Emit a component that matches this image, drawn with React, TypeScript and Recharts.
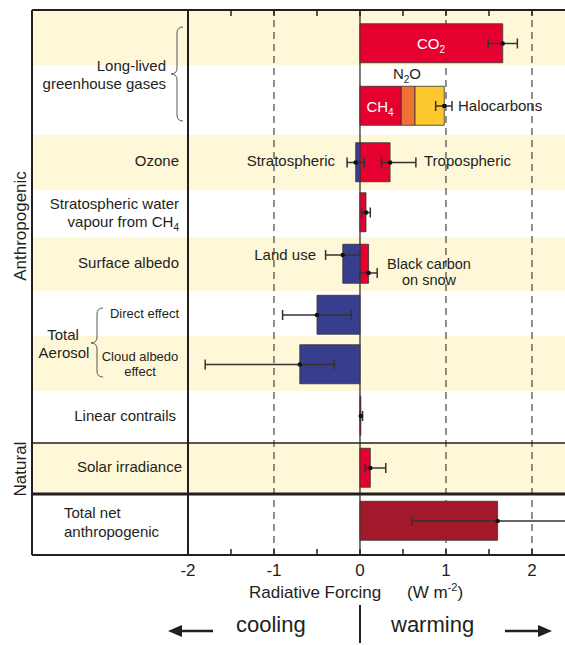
import React from "react"
import { Bar, ComposedChart, ErrorBar, ReferenceArea, ReferenceLine, Scatter, XAxis, YAxis } from "recharts"

// rows, top to bottom
const rowNames = [
  "CO2",
  "CH4 / N2O / Halocarbons",
  "Ozone",
  "Stratospheric water vapour from CH4",
  "Surface albedo",
  "Direct effect",
  "Cloud albedo effect",
  "Linear contrails",
  "Solar irradiance",
  "Total net anthropogenic",
]

// best estimates (W m-2)
const warmForcing = [1.66, 0.48, 0.35, 0.07, 0.1, 0, 0, 0.01, 0.12, 0]
const n2oForcing = [0, 0.16, 0, 0, 0, 0, 0, 0, 0, 0]
const halocarbonForcing = [0, 0.34, 0, 0, 0, 0, 0, 0, 0, 0]
const coolForcing = [0, 0, -0.05, 0, -0.2, -0.5, -0.7, 0, 0, 0]
const totalNetForcing = [0, 0, 0, 0, 0, 0, 0, 0, 0, 1.6]

// uncertainty ranges
const errorRow = [0, 1, 2, 2, 3, 4, 4, 5, 6, 7, 8, 9]
const errorBest = [1.66, 0.98, -0.05, 0.35, 0.07, -0.2, 0.1, -0.5, -0.7, 0.01, 0.12, 1.6]
const errorLow = [1.49, 0.88, -0.15, 0.25, 0.02, -0.4, 0.0, -0.9, -1.8, 0.003, 0.06, 0.6]
const errorHigh = [1.83, 1.07, 0.05, 0.65, 0.12, 0.0, 0.2, -0.1, -0.3, 0.03, 0.3, 2.4]

const xTicks = [-2, -1.5, -1, -0.5, 0, 0.5, 1, 1.5, 2]
const dashedAt = [-1, 1, 2]

// layout
const W = 565
const H = 645
const FRAME_LEFT = 32
const PLOT_LEFT = 188
const PLOT_TOP = 10
const PLOT_BOTTOM = 555
const PLOT_H = PLOT_BOTTOM - PLOT_TOP
const X_MIN = -2
const X_MAX = 2.384
const TICK_LEN = 6
const rowHeights = [55, 70, 55, 47, 54, 45, 55, 52, 50, 62]
const barShift = [6, 6, 0, -1, 0, 1.5, 1, -1, 0, -3]
const errorShift = [0, 0, 0, 0, 0, -9, 9, 0, 0, 0, 0, 0]

const RED = "#e60030"
const ORANGE = "#ee7236"
const YELLOW = "#fcc82d"
const BLUE = "#383d8e"
const DARK_RED = "#a2192c"
const BAND = "#fef7d8"
const INK = "#231f20"
const FONT = "'Liberation Sans', Arial, Helvetica, sans-serif"

const rowTops: number[] = []
rowHeights.reduce((acc, h) => {
  rowTops.push(acc)
  return acc + h
}, 0)
const rowPos = rowTops.map((t, i) => t + rowHeights[i] / 2 + barShift[i])

const data = rowNames.map((name, i) => {
  const w = warmForcing[i]
  const n = n2oForcing[i]
  const h = halocarbonForcing[i]
  return {
    name,
    pos: rowPos[i],
    warm: [0, w],
    n2o: [w, w + n],
    halo: [w + n, w + n + h],
    cool: [coolForcing[i], 0],
    total: [0, totalNetForcing[i]],
  }
})

const errorData = errorRow.map((r, i) => ({
  pos: rowPos[r] + errorShift[i],
  best: errorBest[i],
  err: [errorBest[i] - errorLow[i], errorHigh[i] - errorBest[i]],
}))

// same linear mapping as the x axis, used only for the minor tick marks on the frame
const tickPx = (v: number) => PLOT_LEFT + ((v - X_MIN) / (X_MAX - X_MIN)) * (W - PLOT_LEFT)

const BottomTick = (props: any) => {
  const { x, y, payload } = props
  const v = payload.value
  if (!Number.isInteger(v)) return <g />
  return (
    <text x={x} y={y + 21} textAnchor="middle" fontSize={17} fill={INK} fontFamily={FONT}>
      {String(v)}
    </text>
  )
}

const ErrDot = (props: any) => <circle cx={props.cx} cy={props.cy} r={2.3} fill="#111" />

const Brace = ({ x, top, bottom, tip }: { x: number; top: number; bottom: number; tip: number }) => {
  const r = 6
  const d = `M${x + r},${top} Q${x},${top} ${x},${top + r} L${x},${tip - r} Q${x},${tip} ${x - r},${tip} Q${x},${tip} ${x},${tip + r} L${x},${bottom - r} Q${x},${bottom} ${x + r},${bottom}`
  return <path d={d} fill="none" stroke="#555" strokeWidth={1} />
}

export default function App() {
  const yellowRows = [0, 2, 4, 6, 8]
  return (
    <div style={{ position: "absolute", left: 0, top: 0, width: W, height: H, overflow: "hidden", background: "#fff", fontFamily: FONT }}>
      <ComposedChart
        layout="vertical"
        width={W}
        height={H}
        data={data}
        margin={{ top: PLOT_TOP, right: 0, bottom: H - PLOT_BOTTOM - 30, left: PLOT_LEFT }}
        barSize={39}
        barGap={-39}
        barCategoryGap={0}
      >
        <XAxis
          type="number"
          domain={[X_MIN, X_MAX]}
          allowDataOverflow
          ticks={xTicks}
          interval={0}
          height={30}
          axisLine={false}
          tickLine={false}
          tickSize={0}
          tickMargin={0}
          tick={<BottomTick />}
        />
        <YAxis type="number" dataKey="pos" domain={[0, PLOT_H]} hide />
        <YAxis yAxisId="err" type="number" dataKey="pos" domain={[0, PLOT_H]} hide />
        {yellowRows.map((r) => (
          <ReferenceArea
            key={r}
            x1={X_MIN}
            x2={X_MAX}
            y1={rowTops[r]}
            y2={rowTops[r] + rowHeights[r]}
            fill={BAND}
            fillOpacity={1}
            stroke="none"
            ifOverflow="hidden"
            zIndex={-90}
          />
        ))}
        {dashedAt.map((v) => (
          <ReferenceLine key={v} x={v} stroke={INK} strokeWidth={1} strokeDasharray="7 5" zIndex={-80} />
        ))}
        <ReferenceLine x={0} stroke={INK} strokeWidth={1.2} zIndex={-80} />
        <Bar dataKey="warm" fill={RED} stroke="#333" strokeWidth={0.8} isAnimationActive={false} />
        <Bar dataKey="n2o" fill={ORANGE} stroke="#333" strokeWidth={0.8} isAnimationActive={false} />
        <Bar dataKey="halo" fill={YELLOW} stroke="#333" strokeWidth={0.8} isAnimationActive={false} />
        <Bar dataKey="cool" fill={BLUE} stroke="#333" strokeWidth={0.8} isAnimationActive={false} />
        <Bar dataKey="total" fill={DARK_RED} stroke="#333" strokeWidth={0.8} isAnimationActive={false} />
        <Scatter yAxisId="err" data={errorData} dataKey="best" shape={<ErrDot />} isAnimationActive={false}>
          <ErrorBar dataKey="err" direction="x" width={5} stroke="#333" strokeWidth={1.5} isAnimationActive={false} />
        </Scatter>
      </ComposedChart>

      <svg width={W} height={H} style={{ position: "absolute", left: 0, top: 0, pointerEvents: "none" }} fontFamily={FONT}>
        {yellowRows.map((r) => (
          <rect key={r} x={FRAME_LEFT} y={PLOT_TOP + rowTops[r]} width={PLOT_LEFT - FRAME_LEFT} height={rowHeights[r]} fill={BAND} />
        ))}
        {/* frame */}
        <line x1={FRAME_LEFT} x2={W} y1={PLOT_TOP} y2={PLOT_TOP} stroke={INK} strokeWidth={2} />
        <line x1={FRAME_LEFT} x2={W} y1={PLOT_BOTTOM} y2={PLOT_BOTTOM} stroke={INK} strokeWidth={2} />
        <line x1={FRAME_LEFT} x2={FRAME_LEFT} y1={PLOT_TOP} y2={PLOT_BOTTOM} stroke={INK} strokeWidth={2} />
        <line x1={PLOT_LEFT} x2={PLOT_LEFT} y1={PLOT_TOP} y2={PLOT_BOTTOM} stroke={INK} strokeWidth={2} />
        <line x1={FRAME_LEFT} x2={W} y1={443} y2={443} stroke={INK} strokeWidth={1.6} />
        <line x1={FRAME_LEFT} x2={W} y1={494} y2={494} stroke={INK} strokeWidth={3} />
        {xTicks.map((v) => (
          <g key={v}>
            <line x1={tickPx(v)} x2={tickPx(v)} y1={PLOT_TOP} y2={PLOT_TOP + TICK_LEN} stroke={INK} strokeWidth={1.5} />
            <line x1={tickPx(v)} x2={tickPx(v)} y1={PLOT_BOTTOM} y2={PLOT_BOTTOM - TICK_LEN} stroke={INK} strokeWidth={1.5} />
          </g>
        ))}

        {/* row labels */}
        <g fontSize={15} fill={INK}>
          <text x={166} y={71} textAnchor="end">Long-lived</text>
          <text x={166} y={89} textAnchor="end">greenhouse gases</text>
          <text x={179} y={166} textAnchor="end">Ozone</text>
          <text x={179} y={209} textAnchor="end">Stratospheric water</text>
          <text x={179} y={227} textAnchor="end">
            vapour from CH<tspan fontSize={10} dy={4}>4</tspan>
          </text>
          <text x={179} y={268} textAnchor="end">Surface albedo</text>
          <text x={63} y={340} textAnchor="middle">Total</text>
          <text x={64} y={358} textAnchor="middle">Aerosol</text>
          <text x={176} y={421} textAnchor="end">Linear contrails</text>
          <text x={182} y={472} textAnchor="end">Solar irradiance</text>
          <text x={64} y={518}>Total net</text>
          <text x={64} y={537}>anthropogenic</text>
        </g>
        <g fontSize={13} fill={INK}>
          <text x={179} y={318} textAnchor="end">Direct effect</text>
          <text x={140} y={361} textAnchor="middle">Cloud albedo</text>
          <text x={140} y={376} textAnchor="middle">effect</text>
        </g>
        <Brace x={177} top={27} bottom={121} tip={74} />
        <Brace x={97} top={308} bottom={377} tip={343} />
        <text x={20} y={226} fontSize={17} fill={INK} textAnchor="middle" dominantBaseline="central" transform="rotate(-90 20 226)">
          Anthropogenic
        </text>
        <text x={20} y={469} fontSize={17} fill={INK} textAnchor="middle" dominantBaseline="central" transform="rotate(-90 20 469)">
          Natural
        </text>

        {/* bar annotations */}
        <g fontSize={15}>
          <text x={431} y={49} textAnchor="middle" fill="#fff">
            CO<tspan fontSize={10} dy={4}>2</tspan>
          </text>
          <text x={380} y={112} textAnchor="middle" fill="#fff">
            CH<tspan fontSize={10} dy={4}>4</tspan>
          </text>
          <text x={407} y={79} textAnchor="middle" fill={INK}>
            N<tspan fontSize={10} dy={4}>2</tspan>
            <tspan dy={-4}>O</tspan>
          </text>
          <text x={458} y={111} fill={INK}>Halocarbons</text>
          <text x={335} y={166} textAnchor="end" fill={INK}>Stratospheric</text>
          <text x={424} y={166} fill={INK}>Tropospheric</text>
          <text x={316} y={260} textAnchor="end" fill={INK}>Land use</text>
        </g>
        <g fontSize={14.5} fill={INK}>
          <text x={429} y={269} textAnchor="middle">Black carbon</text>
          <text x={429} y={285} textAnchor="middle">on snow</text>
        </g>

        {/* axis title and direction */}
        <text x={249} y={598} fontSize={17} fill={INK}>
          Radiative Forcing
          <tspan x={407}>(W m</tspan>
          <tspan fontSize={11} dy={-7}>-2</tspan>
          <tspan dy={7}>)</tspan>
        </text>
        <line x1={360} x2={360} y1={605} y2={643} stroke={INK} strokeWidth={2} />
        <text x={236} y={632} fontSize={22} fill={INK}>cooling</text>
        <text x={391} y={632} fontSize={22} fill={INK}>warming</text>
        <line x1={180} x2={213} y1={631} y2={631} stroke={INK} strokeWidth={2.5} />
        <polygon points="168,631 182,625 182,637" fill={INK} />
        <line x1={505} x2={540} y1={631} y2={631} stroke={INK} strokeWidth={2.5} />
        <polygon points="552,631 538,625 538,637" fill={INK} />
      </svg>
    </div>
  )
}
